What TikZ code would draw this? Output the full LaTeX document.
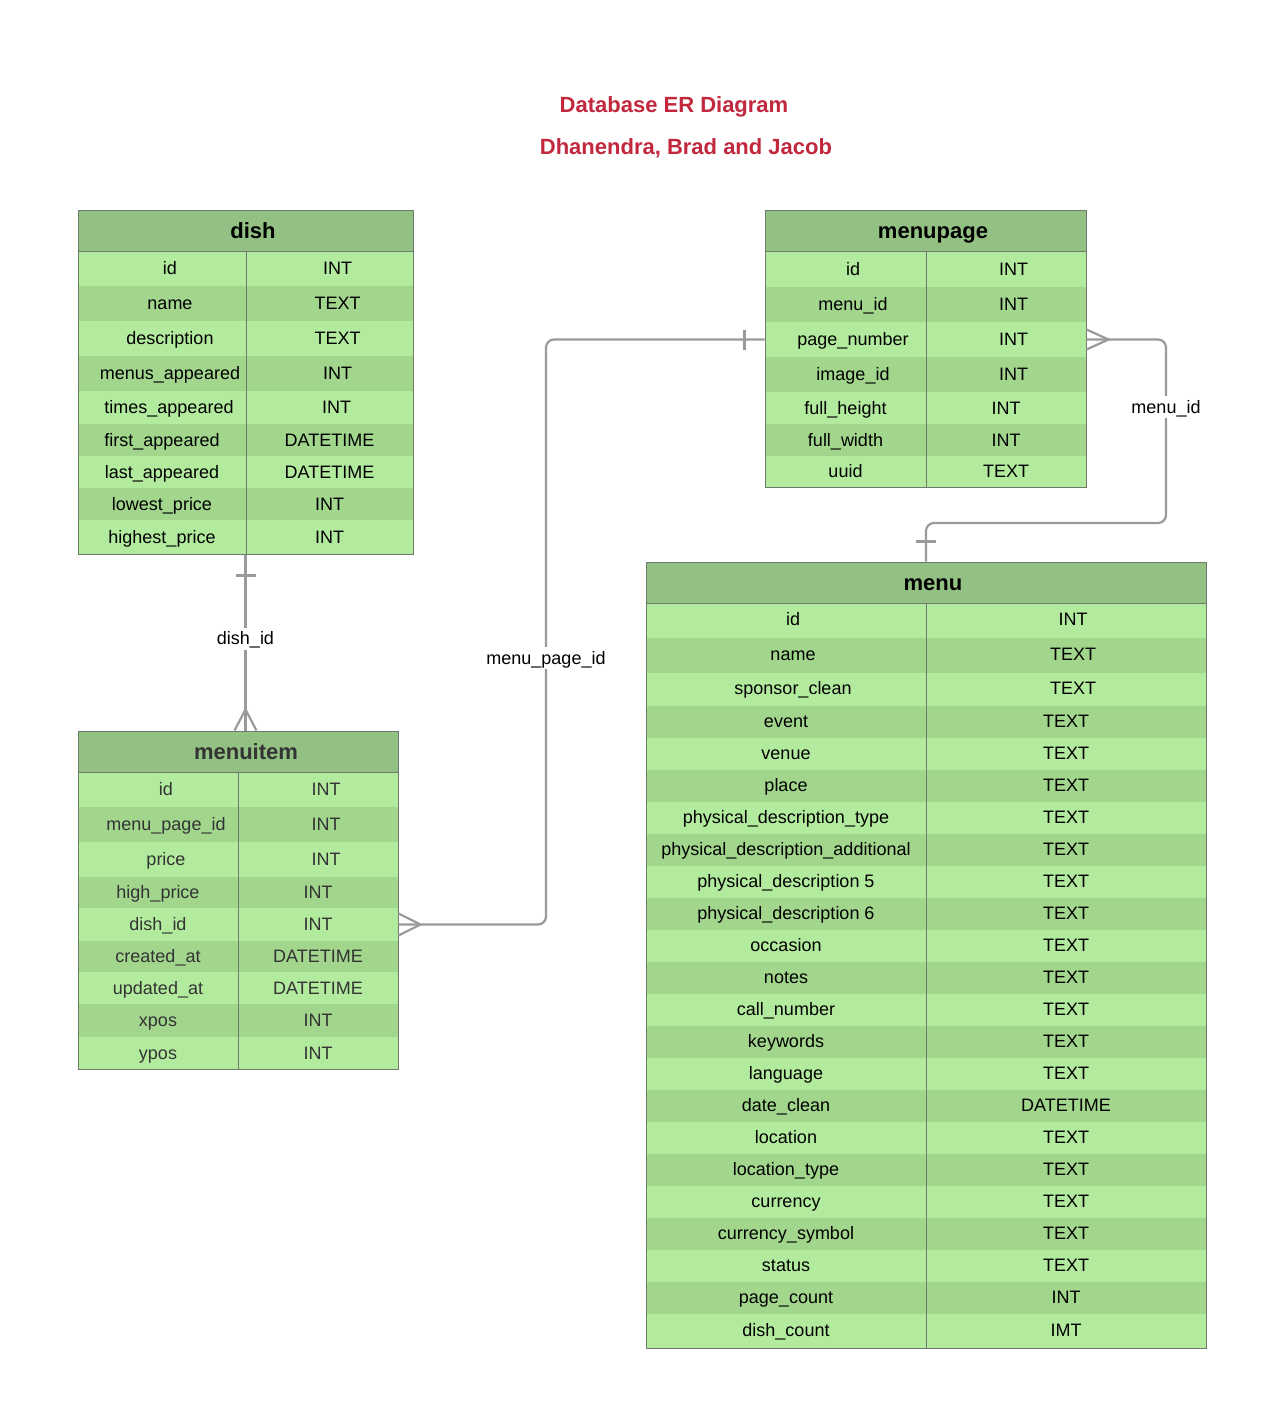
\documentclass[tikz,border=0pt]{standalone}
\usepackage{fontspec}
\setmainfont{Liberation Sans}
\usetikzlibrary{positioning}
\usetikzlibrary{calc}

\definecolor{hdrgreen}{HTML}{93C083}
\definecolor{rowlight}{HTML}{B3EB9E}
\definecolor{rowdark}{HTML}{A2D68D}
\definecolor{edgegray}{HTML}{6E7A6B}
\definecolor{linkgray}{HTML}{9A9A9A}
\definecolor{titlered}{HTML}{C1273D}

\begin{document}
\begin{tikzpicture}[x=1pt, y=-1pt,
	cell/.style={inner sep=0pt, text height=16pt, text depth=4pt, font=\fontsize{18}{21}\selectfont},
	head/.style={inner sep=0pt, text height=20pt, text depth=5pt, font=\fontsize{22}{26}\selectfont\bfseries},
	tbl/.style={draw=edgegray, line width=1pt, inner sep=0pt},
	grid/.style={draw=edgegray, line width=1pt},
	link/.style={draw=linkgray, line width=2.2pt},
	lbl/.style={fill=white, inner sep=1pt, text height=16pt, text depth=4pt, font=\fontsize{18}{21}\selectfont},
	heading/.style={text=titlered, inner sep=0pt, text height=20pt, text depth=5pt, font=\fontsize{22}{26}\selectfont\bfseries}]

	\useasboundingbox (0,0) rectangle (1284,1411);

	% title
	\node[heading] (title) at (674,105) {Database ER Diagram};
	\node[heading] (authors) at (686,147) {Dhanendra, Brad and Jacob};

	% dish
	\fill[hdrgreen] (78,210) rectangle (413,251);
	\node[head] (dish-h) at (253,230.5) {dish};
	\foreach \ya/\yb/\nm/\ty/\cl/\dx [count=\i] in {
		251/286/id/INT/rowlight/8,
		286/321/name/TEXT/rowdark/8,
		321/356/description/TEXT/rowlight/8,
		356/391/menus\_appeared/INT/rowdark/8,
		391/424/times\_appeared/INT/rowlight/7,
		424/456/first\_appeared/DATETIME/rowdark/0,
		456/488/last\_appeared/DATETIME/rowlight/0,
		488/520/lowest\_price/INT/rowdark/0,
		520/554/highest\_price/INT/rowlight/0}
	{
		\fill[\cl] (78,\ya) rectangle (413,\yb);
		\node[cell] (dish-n\i) at ({162+\dx},{(\ya+\yb)/2}) {\nm};
		\node[cell] (dish-t\i) at ({329.5+\dx},{(\ya+\yb)/2}) {\ty};
	}
	\draw[grid] (78,251) -- (413,251);
	\draw[grid] (246,251) -- (246,554);
	\node[tbl, minimum width=335pt, minimum height=344pt] (dish) at (245.5,382) {};

	% menupage
	\fill[hdrgreen] (765,210) rectangle (1086,251);
	\node[head] (mp-h) at (933,230.5) {menupage};
	\foreach \ya/\yb/\nm/\ty/\cl/\dx [count=\i] in {
		251/287/id/INT/rowlight/7.5,
		287/322/menu\_id/INT/rowdark/7.5,
		322/357/page\_number/INT/rowlight/7.5,
		357/392/image\_id/INT/rowdark/7.5,
		392/424/full\_height/INT/rowlight/0,
		424/456/full\_width/INT/rowdark/0,
		456/487/uuid/TEXT/rowlight/0}
	{
		\fill[\cl] (765,\ya) rectangle (1086,\yb);
		\node[cell] (mp-n\i) at ({845.5+\dx},{(\ya+\yb)/2}) {\nm};
		\node[cell] (mp-t\i) at ({1006+\dx},{(\ya+\yb)/2}) {\ty};
	}
	\draw[grid] (765,251) -- (1086,251);
	\draw[grid] (926,251) -- (926,487);
	\node[tbl, minimum width=321pt, minimum height=277pt] (menupage) at (925.5,348.5) {};

	% menuitem
	\fill[hdrgreen] (78,731) rectangle (398,772);
	\node[head, text=black!80] (mi-h) at (246,751.5) {menuitem};
	\foreach \ya/\yb/\nm/\ty/\cl/\dx [count=\i] in {
		772/807/id/INT/rowlight/8,
		807/842/menu\_page\_id/INT/rowdark/8,
		842/877/price/INT/rowlight/8,
		877/908/high\_price/INT/rowdark/0,
		908/941/dish\_id/INT/rowlight/0,
		941/972/created\_at/DATETIME/rowdark/0,
		972/1004/updated\_at/DATETIME/rowlight/0,
		1004/1037/xpos/INT/rowdark/0,
		1037/1069/ypos/INT/rowlight/0}
	{
		\fill[\cl] (78,\ya) rectangle (398,\yb);
		\node[cell, text=black!80] (mi-n\i) at ({158+\dx},{(\ya+\yb)/2}) {\nm};
		\node[cell, text=black!80] (mi-t\i) at ({318+\dx},{(\ya+\yb)/2}) {\ty};
	}
	\draw[grid] (78,772) -- (398,772);
	\draw[grid] (238,772) -- (238,1069);
	\node[tbl, minimum width=320pt, minimum height=338pt] (menuitem) at (238,900) {};

	% menu
	\fill[hdrgreen] (646,562) rectangle (1206,603);
	\node[head] (menu-h) at (933,582.5) {menu};
	\foreach \ya/\yb/\nm/\ty/\cl/\dx [count=\i] in {
		603/638/id/INT/rowlight/7,
		638/673/name/TEXT/rowdark/7,
		673/706/sponsor\_clean/TEXT/rowlight/7,
		706/738/event/TEXT/rowdark/0,
		738/770/venue/TEXT/rowlight/0,
		770/802/place/TEXT/rowdark/0,
		802/834/physical\_description\_type/TEXT/rowlight/0,
		834/866/physical\_description\_additional/TEXT/rowdark/0,
		866/898/physical\_description 5/TEXT/rowlight/0,
		898/930/physical\_description 6/TEXT/rowdark/0,
		930/962/occasion/TEXT/rowlight/0,
		962/994/notes/TEXT/rowdark/0,
		994/1026/call\_number/TEXT/rowlight/0,
		1026/1058/keywords/TEXT/rowdark/0,
		1058/1090/language/TEXT/rowlight/0,
		1090/1122/date\_clean/DATETIME/rowdark/0,
		1122/1154/location/TEXT/rowlight/0,
		1154/1186/location\_type/TEXT/rowdark/0,
		1186/1218/currency/TEXT/rowlight/0,
		1218/1250/currency\_symbol/TEXT/rowdark/0,
		1250/1282/status/TEXT/rowlight/0,
		1282/1314/page\_count/INT/rowdark/0,
		1314/1348/dish\_count/IMT/rowlight/0}
	{
		\fill[\cl] (646,\ya) rectangle (1206,\yb);
		\node[cell] (menu-n\i) at ({786+\dx},{(\ya+\yb)/2-1}) {\nm};
		\node[cell] (menu-t\i) at ({1066+\dx},{(\ya+\yb)/2-1}) {\ty};
	}
	\draw[grid] (646,603) -- (1206,603);
	\draw[grid] (926,603) -- (926,1348);
	\node[tbl, minimum width=560pt, minimum height=786pt] (menu) at (926,955) {};

	% dish -> menuitem
	\coordinate (di-top) at (dish.south);
	\coordinate (di-bot) at (dish.south |- menuitem.north);
	\draw[link] (di-top) -- (di-bot);
	\node[lbl] (lbl-dish) at ($(di-top)!0.48!(di-bot)$) {dish\_id};
	\draw[link] ($(di-top)+(-10,21)$) -- ++(20,0);
	\draw[link] ($(di-bot)+(-11,0)$) -- ++(11,-21) -- ++(11,21);

	% menupage -> menuitem
	\coordinate (mpi-start) at (menupage.west |- mp-n3);
	\coordinate (mpi-end) at (menuitem.east |- mi-n5);
	\coordinate (mpi-bend) at (546,0);
	\draw[link, rounded corners=8pt] (mpi-start) -| (mpi-bend |- mpi-end) -- (mpi-end);
	\node[lbl] (lbl-mpid) at (546,658) {menu\_page\_id};
	\draw[link] ($(mpi-start)+(-20,-10)$) -- ++(0,20);
	\draw[link] ($(mpi-end)+(0,-11)$) -- ++(22,11) -- ++(-22,11);

	% menupage -> menu
	\coordinate (mm-start) at (menupage.east |- mp-n3);
	\coordinate (mm-bend) at (1166,523);
	\draw[link, rounded corners=8pt] (mm-start) -| (mm-bend) -| (menu.north);
	\node[lbl] (lbl-mid) at (1166,407) {menu\_id};
	\draw[link] ($(mm-start)+(0,-10)$) -- ++(22,10) -- ++(-22,10);
	\draw[link] ($(menu.north)+(-10,-20)$) -- ++(20,0);

\end{tikzpicture}
\end{document}
